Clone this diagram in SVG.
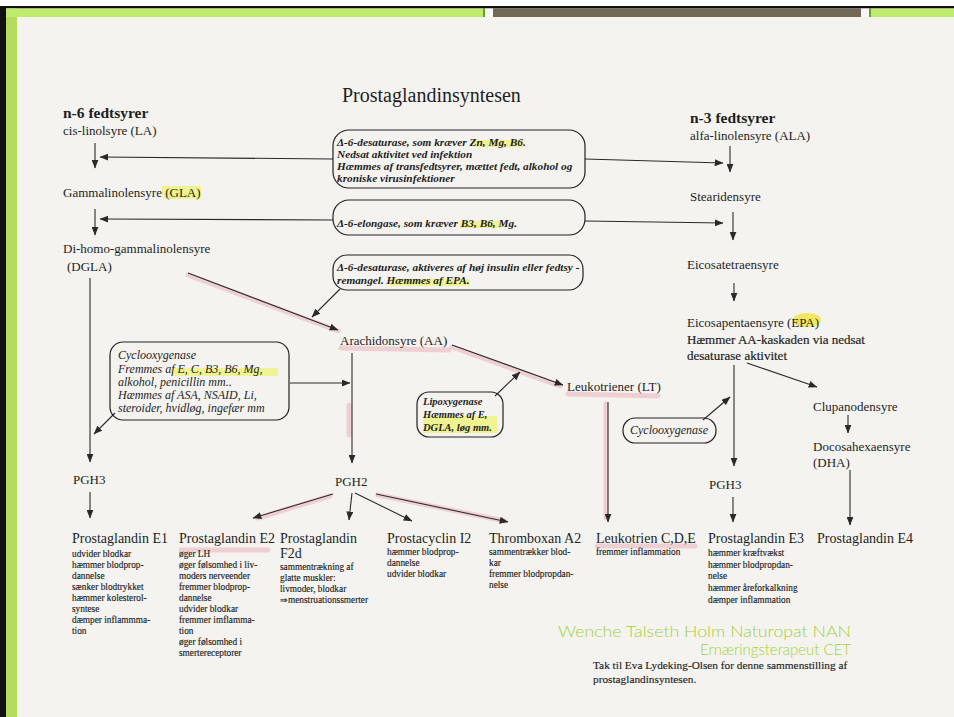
<svg xmlns="http://www.w3.org/2000/svg" width="954" height="717" viewBox="0 0 954 717">
<defs>
<marker id="ah" viewBox="0 0 10 8" refX="9.5" refY="4" markerWidth="9" markerHeight="7" markerUnits="userSpaceOnUse" orient="auto"><path d="M0,0 L10,4 L0,8 z" fill="#2a2a2a"/></marker>
<style>
.s{font-family:"Liberation Serif","Times New Roman",serif;fill:#1e1e1e}
.l{font-size:13px}
.h{font-size:15.5px;font-weight:bold}
.tt{font-size:20px}
.ti{font-size:14px}
.sm{font-size:9.3px;stroke:#1e1e1e;stroke-width:.15}
.ft{font-size:11.3px;stroke:#1e1e1e;stroke-width:.15}
.bi{font-style:italic;font-weight:bold;font-size:11.3px}
.ci{font-style:italic;font-size:12px}
.cs{font-style:italic;font-size:12px}
.bx{fill:none;stroke:#222;stroke-width:1.2}
.c{stroke:#2a2a2a;stroke-width:1.1;fill:none;marker-end:url(#ah)}
.pk{stroke:#e89aa6;stroke-width:5;stroke-opacity:.4;fill:none;stroke-linecap:round}
.hl{fill:#eef26a;opacity:.7}
.wm{font-family:Lato,"Open Sans",sans-serif;font-weight:300;font-size:15px;fill:#a3d13a}
</style>
</defs>
<rect x="0" y="0" width="954" height="717" fill="#ffffff"/>
<rect x="17" y="17" width="937" height="700" fill="#f4f3f0"/>
<!-- frame -->
<rect x="0" y="6" width="954" height="2.5" fill="#111"/>
<rect x="0" y="6" width="6" height="711" fill="#111"/>
<rect x="6" y="8.5" width="11" height="708.5" fill="#b4dd5e"/>
<rect x="6" y="8.5" width="477" height="8.5" fill="#bfec6c"/>
<rect x="483" y="8.5" width="2" height="8.5" fill="#6aa02a"/>
<rect x="485" y="8.5" width="8" height="8.5" fill="#f6f6f4"/>
<rect x="493" y="8.5" width="368" height="8.5" fill="#726858"/>
<rect x="861" y="8.5" width="8" height="8.5" fill="#f6f6f4"/>
<rect x="869" y="8.5" width="2" height="8.5" fill="#6aa02a"/>
<rect x="871" y="8.5" width="83" height="8.5" fill="#bfec6c"/>

<!-- highlights -->
<g id="highlights">
<rect x="162" y="186" width="39" height="9" class="hl" opacity=".3"/>
<rect x="163" y="194" width="38" height="5" class="hl"/>
<rect x="473" y="140" width="51" height="7" class="hl"/>
<rect x="460" y="221" width="41" height="7" class="hl"/>
<rect x="390" y="279" width="80" height="7" class="hl"/>
<rect x="171" y="368" width="107" height="8" class="hl"/>
<rect x="423" y="416" width="74" height="17" class="hl" opacity=".45"/>
<ellipse cx="807" cy="320" rx="14" ry="7" fill="#f2e43c" opacity=".8"/>
<line x1="341" y1="348" x2="449" y2="350" class="pk"/>
<line x1="568" y1="394" x2="658" y2="396" class="pk"/>
<line x1="181" y1="550" x2="268" y2="550" class="pk"/>
<line x1="597" y1="546" x2="695" y2="546" class="pk"/>
</g>

<g id="connectors">
<line x1="188" y1="275" x2="338" y2="331" class="pk"/>
<line x1="452" y1="347" x2="560" y2="386" class="pk"/>
<line x1="606" y1="404" x2="606" y2="518" class="pk"/>
<line x1="349" y1="405" x2="349" y2="435" class="pk" stroke-width="3"/>
<line x1="330" y1="496" x2="258" y2="518" class="pk"/>
<line x1="378" y1="495" x2="505" y2="521" class="pk"/>
<line x1="95" y1="143" x2="95" y2="168" class="c"/>
<line x1="333" y1="159" x2="100" y2="157" class="c"/>
<line x1="585" y1="159" x2="723" y2="163" class="c"/>
<line x1="730" y1="146" x2="730" y2="172" class="c"/>
<line x1="95" y1="209" x2="95" y2="235" class="c"/>
<line x1="333" y1="220" x2="100" y2="219" class="c"/>
<line x1="585" y1="221" x2="723" y2="223" class="c"/>
<line x1="733" y1="212" x2="733" y2="240" class="c"/>
<line x1="734" y1="283" x2="734" y2="301" class="c"/>
<line x1="188" y1="273" x2="338" y2="330" class="c" stroke="#5a2f2f"/>
<line x1="340" y1="289" x2="312" y2="317" class="c"/>
<line x1="90" y1="278" x2="90" y2="462" class="c"/>
<line x1="115" y1="413" x2="94" y2="434" class="c"/>
<line x1="290" y1="383" x2="350" y2="383" class="c"/>
<line x1="352" y1="353" x2="352" y2="463" class="c"/>
<line x1="452" y1="345" x2="563" y2="385" class="c" stroke="#5a2f2f"/>
<line x1="495" y1="396" x2="520" y2="372" class="c"/>
<line x1="608" y1="402" x2="608" y2="522" class="c"/>
<line x1="734" y1="365" x2="734" y2="466" class="c"/>
<line x1="747" y1="363" x2="817" y2="387" class="c"/>
<line x1="848" y1="415" x2="848" y2="433" class="c"/>
<line x1="703" y1="420" x2="730" y2="397" class="c"/>
<line x1="850" y1="470" x2="850" y2="525" class="c"/>
<line x1="90" y1="492" x2="90" y2="518" class="c"/>
<line x1="733" y1="497" x2="733" y2="522" class="c"/>
<line x1="333" y1="494" x2="253" y2="518" class="c" stroke="#5a2f2f"/>
<line x1="352" y1="493" x2="349" y2="520" class="c"/>
<line x1="355" y1="493" x2="412" y2="521" class="c"/>
<line x1="376" y1="494" x2="508" y2="522" class="c" stroke="#5a2f2f"/>
</g>

<g id="title"><text x="342" y="102" class="s tt">Prostaglandinsyntesen</text></g>

<g id="n6"><text x="63" y="118" class="s h">n-6 fedtsyrer</text>
<text x="63" y="135" class="s l">cis-linolsyre (LA)</text></g>
<g id="gla"><text x="63" y="197" class="s l">Gammalinolensyre (GLA)</text></g>
<g id="dgla"><text x="63" y="253" class="s l">Di-homo-gammalinolensyre</text>
<text x="67" y="271" class="s l">(DGLA)</text></g>

<g id="n3"><text x="690" y="123" class="s h">n-3 fedtsyrer</text>
<text x="690" y="140" class="s l">alfa-linolensyre (ALA)</text></g>
<g id="stearidensyre"><text x="690" y="201" class="s l">Stearidensyre</text></g>
<g id="eicosatetraensyre"><text x="687" y="269" class="s l">Eicosatetraensyre</text></g>
<g id="epa"><text x="687" y="327" class="s l">Eicosapentaensyre (EPA)</text>
<text x="687" y="344" class="s l" stroke="#1e1e1e" stroke-width=".2">Hæmmer AA-kaskaden via nedsat</text>
<text x="687" y="360" class="s l" stroke="#1e1e1e" stroke-width=".2">desaturase aktivitet</text></g>
<g id="clupanodensyre"><text x="813" y="411" class="s l">Clupanodensyre</text></g>
<g id="dha"><text x="813" y="451" class="s l">Docosahexaensyre</text>
<text x="813" y="467" class="s l">(DHA)</text></g>

<g id="desaturase1"><rect x="333" y="130" width="252" height="58" rx="16" class="bx"/>
<text x="337" y="146" class="s bi">Δ-6-desaturase, som kræver Zn, Mg, B6.</text>
<text x="337" y="158" class="s bi">Nedsat aktivitet ved infektion</text>
<text x="337" y="170" class="s bi">Hæmmes af transfedtsyrer, mættet fedt, alkohol og</text>
<text x="337" y="182" class="s bi">kroniske virusinfektioner</text></g>
<g id="elongase"><rect x="333" y="200" width="252" height="35" rx="16" class="bx"/>
<text x="337" y="227" class="s bi">Δ-6-elongase, som kræver B3, B6, Mg.</text></g>
<g id="desaturase2"><rect x="333" y="255" width="250" height="35" rx="14" class="bx"/>
<text x="337" y="271" class="s bi">Δ-6-desaturase, aktiveres af høj insulin eller fedtsy -</text>
<text x="337" y="284" class="s bi">remangel. Hæmmes af EPA.</text></g>

<g id="aa"><text x="340" y="345" class="s l">Arachidonsyre (AA)</text></g>
<g id="cyclooxygenase1"><rect x="110" y="342" width="179" height="78" rx="13" class="bx"/>
<text x="118" y="359" class="s ci">Cyclooxygenase</text>
<text x="118" y="373" class="s ci">Fremmes af E, C, B3, B6, Mg,</text>
<text x="118" y="386" class="s ci">alkohol, penicillin mm..</text>
<text x="118" y="399" class="s ci">Hæmmes af ASA, NSAID, Li,</text>
<text x="118" y="412" class="s ci">steroider, hvidløg, ingefær mm</text></g>
<g id="lipoxygenase"><rect x="417" y="392" width="86" height="45" rx="12" class="bx"/>
<text x="423" y="405" class="s bi" style="font-size:10.5px">Lipoxygenase</text>
<text x="423" y="418" class="s bi" style="font-size:10.5px">Hæmmes af E,</text>
<text x="423" y="431" class="s bi" style="font-size:10.5px">DGLA, løg mm.</text></g>
<g id="leukotriener"><text x="567" y="391" class="s l">Leukotriener (LT)</text></g>
<g id="cyclooxygenase2"><rect x="623" y="418" width="93" height="25" rx="12" class="bx"/>
<text x="630" y="434" class="s cs">Cyclooxygenase</text></g>

<g id="pgh3a"><text x="73" y="484" class="s l">PGH3</text></g>
<g id="pgh2"><text x="335" y="486" class="s l">PGH2</text></g>
<g id="pgh3b"><text x="709" y="489" class="s l">PGH3</text></g>

<g id="pge1"><text x="72" y="543" class="s ti">Prostaglandin E1</text>
<text class="s sm"><tspan x="72" y="557">udvider blodkar</tspan><tspan x="72" y="568">hæmmer blodprop-</tspan><tspan x="72" y="579">dannelse</tspan><tspan x="72" y="590">sænker blodtrykket</tspan><tspan x="72" y="601">hæmmer kolesterol-</tspan><tspan x="72" y="612">syntese</tspan><tspan x="72" y="623">dæmper inflammma-</tspan><tspan x="72" y="634">tion</tspan></text></g>
<g id="pge2"><text x="179" y="543" class="s ti">Prostaglandin E2</text>
<text class="s sm"><tspan x="179" y="557">øger LH</tspan><tspan x="179" y="568">øger følsomhed i liv-</tspan><tspan x="179" y="579">moders nerveender</tspan><tspan x="179" y="590">fremmer blodprop-</tspan><tspan x="179" y="601">dannelse</tspan><tspan x="179" y="612">udvider blodkar</tspan><tspan x="179" y="623">fremmer imflamma-</tspan><tspan x="179" y="634">tion</tspan><tspan x="179" y="645">øger følsomhed i</tspan><tspan x="179" y="656">smertereceptorer</tspan></text></g>
<g id="pgf2d"><text x="280" y="543" class="s ti">Prostaglandin</text>
<text x="280" y="558" class="s ti">F2d</text>
<text class="s sm"><tspan x="280" y="570">sammentrækning af</tspan><tspan x="280" y="581">glatte muskler:</tspan><tspan x="280" y="592">livmoder, blodkar</tspan><tspan x="280" y="603">⇒menstruationssmerter</tspan></text></g>
<g id="pgi2"><text x="387" y="543" class="s ti">Prostacyclin I2</text>
<text class="s sm"><tspan x="387" y="555">hæmmer blodprop-</tspan><tspan x="387" y="566">dannelse</tspan><tspan x="387" y="577">udvider blodkar</tspan></text></g>
<g id="txa2"><text x="489" y="543" class="s ti">Thromboxan A2</text>
<text class="s sm"><tspan x="489" y="555">sammentrækker blod-</tspan><tspan x="489" y="566">kar</tspan><tspan x="489" y="577">fremmer blodpropdan-</tspan><tspan x="489" y="588">nelse</tspan></text></g>
<g id="ltcde"><text x="596" y="543" class="s ti">Leukotrien C,D,E</text>
<text x="596" y="555" class="s sm">fremmer inflammation</text></g>
<g id="pge3"><text x="708" y="543" class="s ti">Prostaglandin E3</text>
<text class="s sm"><tspan x="708" y="556">hæmmer kræftvækst</tspan><tspan x="708" y="568">hæmmer blodpropdan-</tspan><tspan x="708" y="579">nelse</tspan><tspan x="708" y="591">hæmmer åreforkalkning</tspan><tspan x="708" y="603">dæmper inflammation</tspan></text></g>
<g id="pge4"><text x="817" y="543" class="s ti">Prostaglandin E4</text></g>

<g id="credits">
<text x="558" y="637" class="wm" textLength="293" lengthAdjust="spacingAndGlyphs">Wenche Talseth Holm Naturopat NAN</text>
<text x="700" y="655" class="wm" textLength="151" lengthAdjust="spacingAndGlyphs">Ernæringsterapeut CET</text>
<text x="593" y="669" class="s ft">Tak til Eva Lydeking-Olsen for denne sammenstilling af</text>
<text x="593" y="683" class="s ft">prostaglandinsyntesen.</text>
</g>
</svg>
